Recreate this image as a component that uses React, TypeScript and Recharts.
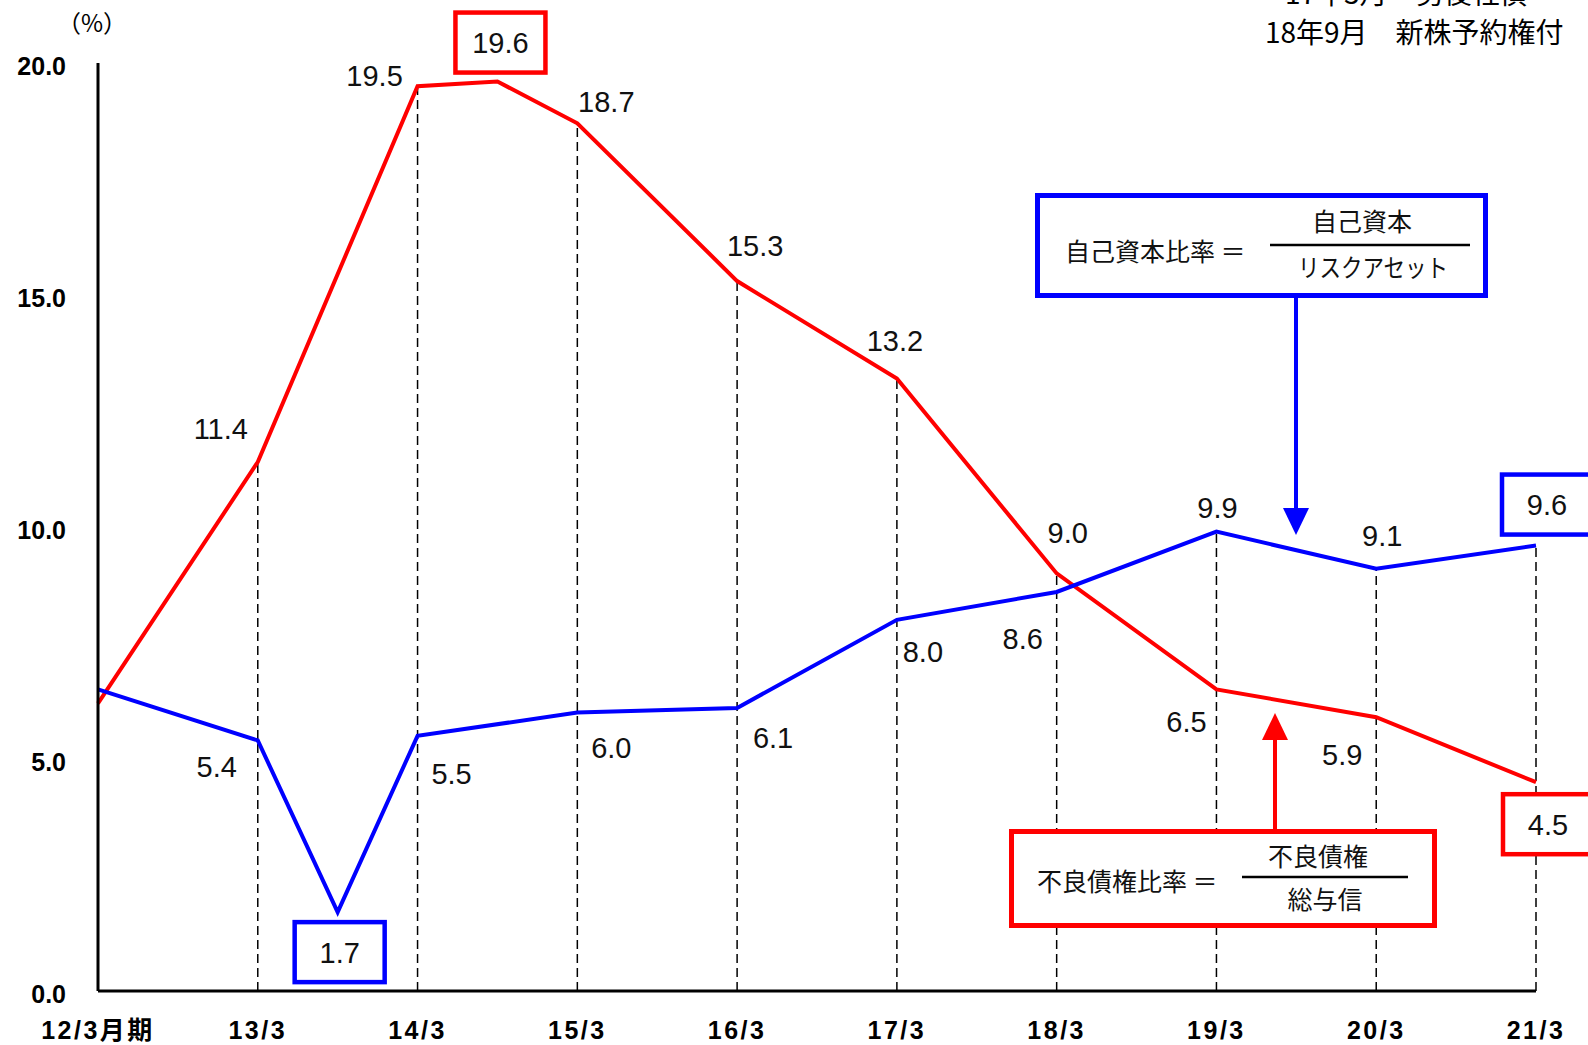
import React from 'react';
import { LineChart, Line, XAxis, YAxis, ReferenceLine, LabelList } from 'recharts';

// half-year periods; only March figures are reported, plus a couple of September points
const periods = [
  '12/3', '12/9', '13/3', '13/9', '14/3', '14/9', '15/3', '15/9', '16/3', '16/9',
  '17/3', '17/9', '18/3', '18/9', '19/3', '19/9', '20/3', '20/9', '21/3',
];
const yearLabels = ['12/3月期', '13/3', '14/3', '15/3', '16/3', '17/3', '18/3', '19/3', '20/3', '21/3'];

// 不良債権比率 (red)
const badLoanRatio = [
  6.2, null, 11.4, null, 19.5, 19.6, 18.7, null, 15.3, null,
  13.2, null, 9.0, null, 6.5, null, 5.9, null, 4.5,
];
// 自己資本比率 (blue)
const capitalRatio = [
  6.5, null, 5.4, 1.7, 5.5, null, 6.0, null, 6.1, null,
  8.0, null, 8.6, null, 9.9, null, 9.1, null, 9.6,
];

const yTicks = [0, 5, 10, 15, 20];

const RED = '#FF0000';
const BLUE = '#0000FF';
const NUM_FONT = '"Liberation Sans", Arial, sans-serif';
const JP_FONT = '"Noto Sans CJK JP", "Noto Sans", sans-serif';

const data = periods.map((p, i) => ({ i, period: p, red: badLoanRatio[i], blue: capitalRatio[i] }));

// label placement around each point (dx, dy of the text centre)
const redLabelPos: Record<string, [number, number]> = {
  '13/3': [-37, -33],
  '14/3': [-43, -11],
  '14/9': [3, -39],
  '15/3': [29, -22],
  '16/3': [18, -36],
  '17/3': [-2, -38],
  '18/3': [11, -41],
  '19/3': [-30, 32],
  '20/3': [-34, 37],
  '21/3': [12, 42],
};
const blueLabelPos: Record<string, [number, number]> = {
  '13/3': [-41, 26],
  '13/9': [2, 40],
  '14/3': [34, 38],
  '15/3': [34, 35],
  '16/3': [36, 30],
  '17/3': [26, 32],
  '18/3': [-34, 47],
  '19/3': [1, -24],
  '20/3': [6, -33],
  '21/3': [11, -41],
};
const redBoxed = ['14/9', '21/3'];
const blueBoxed = ['13/9', '21/3'];

const makeLabel =
  (pos: Record<string, [number, number]>, boxed: string[], color: string) =>
  (props: any) => {
    const { x, y, value, index } = props;
    if (value == null || x == null || y == null) return null;
    const key = periods[index];
    const off = pos[key];
    if (!off) return null;
    const cx = x + off[0];
    const cy = y + off[1];
    return (
      <g>
        {boxed.includes(key) && (
          <rect x={cx - 45} y={cy - 30} width={90} height={60} fill="#fff" stroke={color} strokeWidth={4.5} />
        )}
        <text x={cx} y={cy} dy="0.36em" textAnchor="middle" fontFamily={NUM_FONT} fontSize={29} fill="#111">
          {Number(value).toFixed(1)}
        </text>
      </g>
    );
  };

const XTick = (props: any) => {
  const { x, payload } = props;
  const label = yearLabels[payload.value / 2];
  return (
    <text
      x={x}
      y={1030}
      dy="0.36em"
      textAnchor="middle"
      fontFamily={`${NUM_FONT.split(',')[0]}, ${JP_FONT}`}
      fontWeight="bold"
      fontSize={25}
      letterSpacing={2.5}
      fill="#000"
    >
      {label}
    </text>
  );
};

const YTick = (props: any) => {
  const { y, payload } = props;
  return (
    <text x={66} y={y + 3} dy="0.36em" textAnchor="end" fontFamily={NUM_FONT} fontWeight="bold" fontSize={25} fill="#000">
      {Number(payload.value).toFixed(1)}
    </text>
  );
};

// dashed drop lines from the higher of the two ratios down to the axis
const dropLines = periods
  .map((p, i) => ({ i, top: Math.max(badLoanRatio[i] ?? 0, capitalRatio[i] ?? 0), year: p.endsWith('/3') }))
  .filter((d) => d.year && d.i > 0);

const Overlay = () => (
  <svg
    width={1588}
    height={1045}
    style={{ position: 'absolute', left: 0, top: 0, pointerEvents: 'none' }}
  >
    <text x={92} y={23} dy="0.36em" textAnchor="middle" fontFamily={JP_FONT} fontSize={24} fill="#000">
      （%）
    </text>
    <text x={1285} y={-6} dy="0.36em" fontFamily={JP_FONT} fontSize={28} fill="#000">
      17年3月　劣後社債
    </text>
    <text x={1265} y={33} dy="0.36em" fontFamily={JP_FONT} fontSize={28} fill="#000">
      18年9月　新株予約権付
    </text>

    {/* 自己資本比率 definition */}
    <rect x={1037.5} y={195.5} width={448} height={100} fill="#fff" stroke={BLUE} strokeWidth={5} />
    <text x={1065} y={252} dy="0.36em" fontFamily={JP_FONT} fontSize={25} fill="#111">
      自己資本比率 ＝
    </text>
    <line x1={1270} x2={1470} y1={245} y2={245} stroke="#000" strokeWidth={2.5} />
    <text x={1362} y={222} dy="0.36em" textAnchor="middle" fontFamily={JP_FONT} fontSize={25} fill="#111">
      自己資本
    </text>
    <text
      x={1298}
      y={268}
      dy="0.36em"
      textLength={150}
      lengthAdjust="spacingAndGlyphs"
      fontFamily={JP_FONT}
      fontSize={25}
      fill="#111"
    >
      リスクアセット
    </text>
    <line x1={1296} x2={1296} y1={298} y2={512} stroke={BLUE} strokeWidth={4} />
    <polygon points="1283,508 1309,508 1296,535" fill={BLUE} />

    {/* 不良債権比率 definition */}
    <line x1={1275} x2={1275} y1={829} y2={736} stroke={RED} strokeWidth={4} />
    <polygon points="1262,740 1288,740 1275,713" fill={RED} />
    <rect x={1011.5} y={831.5} width={423} height={94} fill="#fff" stroke={RED} strokeWidth={5} />
    <text x={1037} y={882} dy="0.36em" fontFamily={JP_FONT} fontSize={25} fill="#111">
      不良債権比率 ＝
    </text>
    <line x1={1242} x2={1408} y1={877} y2={877} stroke="#000" strokeWidth={2.5} />
    <text x={1318} y={857} dy="0.36em" textAnchor="middle" fontFamily={JP_FONT} fontSize={25} fill="#111">
      不良債権
    </text>
    <text x={1325} y={900} dy="0.36em" textAnchor="middle" fontFamily={JP_FONT} fontSize={25} fill="#111">
      総与信
    </text>
  </svg>
);

const RatioChart = () => (
  <div style={{ position: 'absolute', left: 0, top: 0, width: 1588, height: 1045, background: '#fff' }}>
    <LineChart width={1588} height={1045} data={data} margin={{ top: 63, right: 52, left: 0, bottom: 0 }}>
      <XAxis
        dataKey="i"
        type="number"
        domain={[0, 18]}
        ticks={[0, 2, 4, 6, 8, 10, 12, 14, 16, 18]}
        height={54}
        axisLine={{ stroke: '#000', strokeWidth: 3 }}
        tickLine={false}
        tick={<XTick />}
        interval={0}
      />
      <YAxis
        type="number"
        domain={[0, 20]}
        ticks={yTicks}
        width={98}
        axisLine={{ stroke: '#000', strokeWidth: 3 }}
        tickLine={false}
        tick={<YTick />}
        interval={0}
      />
      {dropLines.map((d) => (
        <ReferenceLine
          key={d.i}
          segment={[
            { x: d.i, y: 0 },
            { x: d.i, y: d.top },
          ]}
          stroke="#000"
          strokeWidth={1.5}
          strokeDasharray="9 5"
        />
      ))}
      <Line
        type="linear"
        dataKey="red"
        stroke={RED}
        strokeWidth={4}
        dot={false}
        connectNulls
        isAnimationActive={false}
      >
        <LabelList dataKey="red" content={makeLabel(redLabelPos, redBoxed, RED)} />
      </Line>
      <Line
        type="linear"
        dataKey="blue"
        stroke={BLUE}
        strokeWidth={4}
        dot={false}
        connectNulls
        isAnimationActive={false}
      >
        <LabelList dataKey="blue" content={makeLabel(blueLabelPos, blueBoxed, BLUE)} />
      </Line>
    </LineChart>
    <Overlay />
  </div>
);

export default function App() {
  return <RatioChart />;
}
